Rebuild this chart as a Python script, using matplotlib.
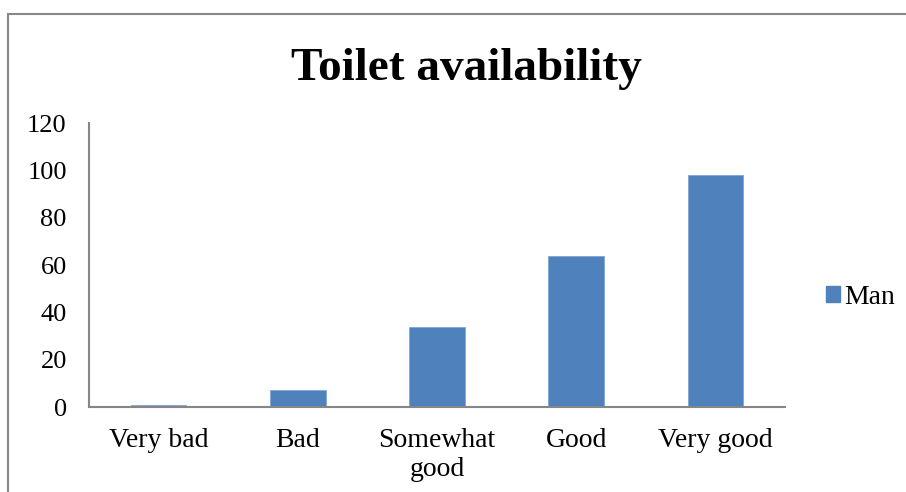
import matplotlib
matplotlib.use("Agg")
import matplotlib.pyplot as plt
from matplotlib.patches import Rectangle, Patch

categories = ["Very bad", "Bad", "Somewhat\ngood", "Good", "Very good"]
man_values = [1, 7, 34, 64, 98]
y_ticks = [0, 20, 40, 60, 80, 100, 120]
series_name = "Man"
title = "Toilet availability"

plt.rcParams['font.family'] = ['Liberation Serif', 'DejaVu Serif']

W, H = 906, 492
fig = plt.figure(figsize=(W / 100, H / 100), dpi=100)
ax = fig.add_axes([89 / W, 1 - 407 / H, (785 - 89) / W, (407 - 123) / H])

bar_color = "#4F81BD"
x = list(range(len(categories)))
ax.bar(x, man_values, width=0.40, color=bar_color, edgecolor="#7fa6d6", linewidth=0.6)

ax.set_xlim(-0.5, len(categories) - 0.5)
ax.set_ylim(0, 120)
ax.set_yticks(y_ticks)
ax.set_yticklabels([str(t) for t in y_ticks])
ax.set_xticks(x)
ax.set_xticklabels(categories, linespacing=1.2)
ax.tick_params(axis='both', length=0)
ax.tick_params(axis='y', pad=16, labelsize=19)
ax.tick_params(axis='x', pad=15, labelsize=20)

for s in ['top', 'right']:
    ax.spines[s].set_visible(False)
for s in ['left', 'bottom']:
    ax.spines[s].set_color("#868686")
    ax.spines[s].set_linewidth(1.5)

fig.text(466 / W, 1 - 80 / H, title, ha='center', va='baseline',
         fontsize=34, fontweight='bold')

handle = Patch(facecolor=bar_color, edgecolor=bar_color)
fig.legend([handle], [series_name], loc='center left',
           bbox_to_anchor=(826 / W, 1 - 297 / H), frameon=False,
           fontsize=20, handlelength=0.5, handleheight=0.5,
           handletextpad=0.15, borderpad=0, borderaxespad=0)

border = Rectangle((8 / W, -0.1), 1.1, 1 - 14 / H + 0.1, transform=fig.transFigure,
                   fill=False, edgecolor="#888888", linewidth=1.5, clip_on=False)
fig.add_artist(border)

fig.savefig("out.png", dpi=100)
